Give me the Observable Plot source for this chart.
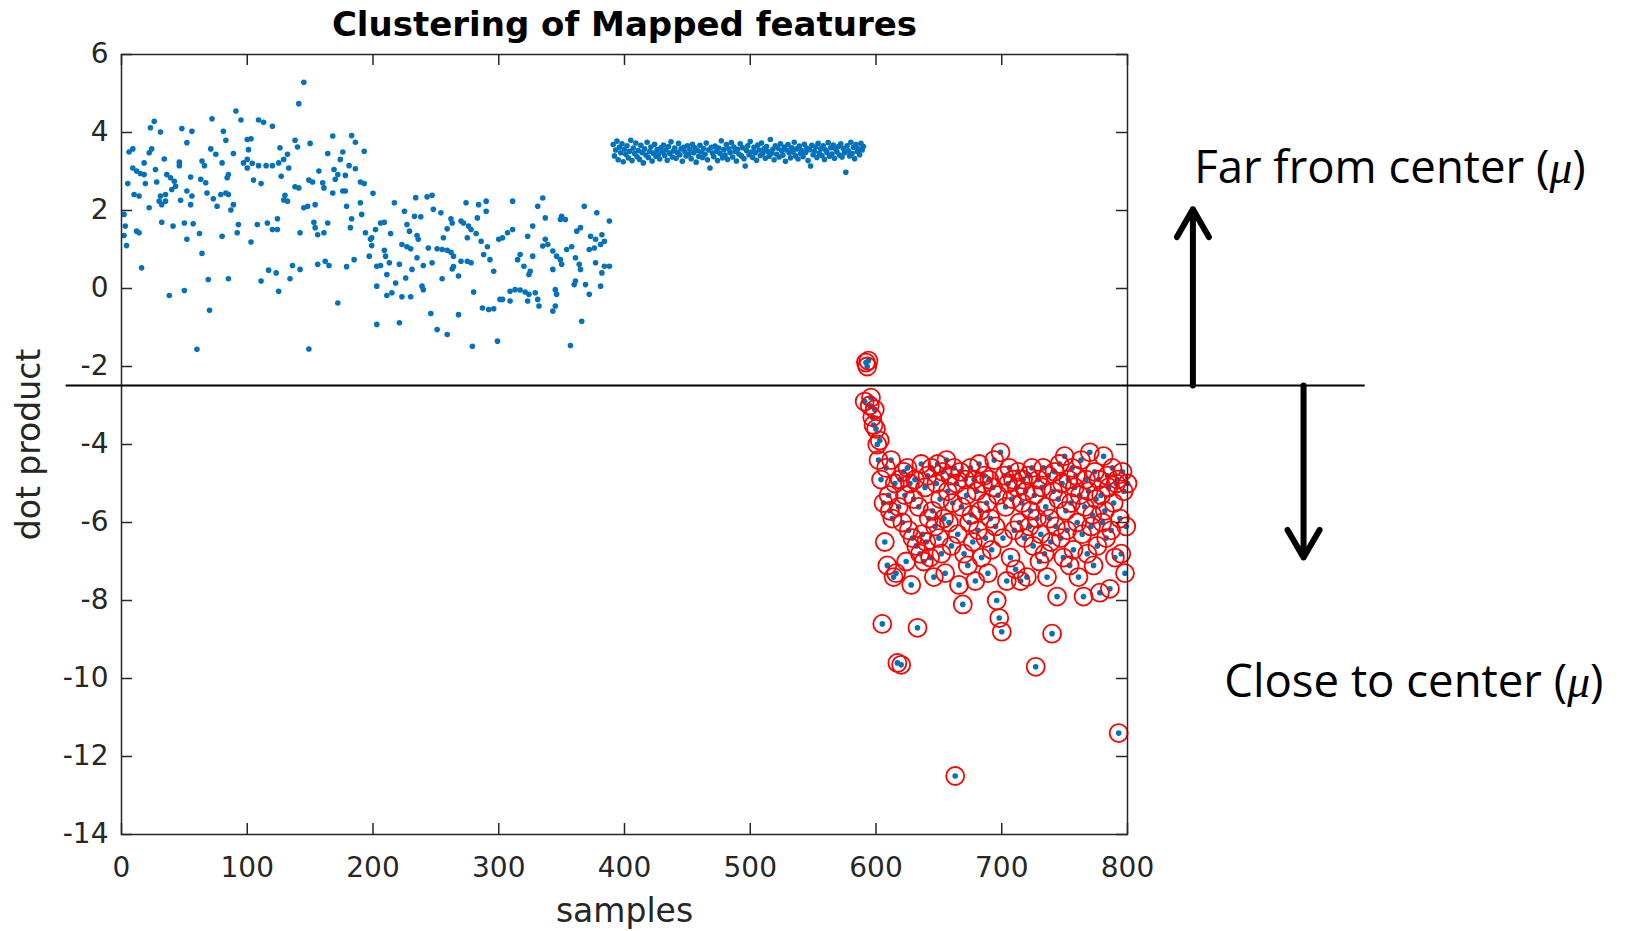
<!DOCTYPE html>
<html><head><meta charset="utf-8">
<script src="https://cdn.jsdelivr.net/npm/d3@7"></script>
<script src="https://cdn.jsdelivr.net/npm/@observablehq/plot@0.6"></script>
<style>
html, body { margin:0; padding:0; background:#fff; }
#chart svg { display:block; }
</style></head>
<body><div id="chart"></div>
<script>
// ---------- text ----------
const chartTitle = "Clustering of Mapped features";
const xLabel = "samples";
const yLabel = "dot product";
const xTicks = [0, 100, 200, 300, 400, 500, 600, 700, 800];
const yTicks = [6, 4, 2, 0, -2, -4, -6, -8, -10, -12, -14];

// ---------- group A (samples ~1-193) ----------
const groupAx = [2,2,3,4,5,6,9,9,10,12, 12,14,14,15,16,18,18,19,22,22, 23,24,26,27,28,30,31,31,32,32,
  34,35,35,36,38,39,40,41,42,43, 46,46,47,48,50,50,52,52,52,55, 55,56,56,57,60,62,63,64,64,66,
  67,68,69,70,71,72,73,75,76,79, 80,80,81,83,83,84,85,85,85,87, 89,89,91,92,93,95,97,100,100,
  100,101,103,103,104,105,108,109,109,111, 111,113,115,116,117,120,120,120,123,124, 124,125,125,126,127,129,129,130,132,132,
  133,134,136,138,138,140,141,141,142,142, 145,145,148,149,149,150,152,153,154,154, 156,156,157,160,161,161,162,164,164,165,
  168,168,169,170,172,172,174,176,176,178, 178,179,179,181,182,183,183,185,186,186, 190,190,191,193,193];
const groupAy = [1.90,1.36,1.60,1.10,2.69,3.50,3.58,3.09,2.41,3.01, 1.47,2.37,1.43,2.95,0.53,3.22,2.92,2.69,3.48,2.07,
  4.12,3.58,4.29,3.05,2.73,2.24,4.01,2.37,2.15,1.70, 3.32,2.41,2.24,2.92,-0.18,2.84,2.54,1.60,2.75,2.62,
  3.24,3.15,2.26,4.10,1.68,-0.05,1.26,2.50,3.74,2.86, 2.15,2.37,4.03,1.66,-1.56,1.41,2.80,0.90,3.27,3.15,
  2.71,2.45,0.23,-0.56,3.58,4.35,2.30,3.44,2.11,2.41, 3.22,1.34,4.03,3.80,2.45,2.84,2.41,2.92,0.25,2.01,
  2.15,3.46,4.55,1.43,1.64,4.32,3.22,3.82,3.09,
  3.31,3.56,3.84,1.19,3.21,2.78,1.64,4.32,3.15,2.69, 0.19,4.26,3.15,1.68,0.47,3.15,1.51,4.16,0.40,1.79,
  1.51,3.22,-0.07,3.61,2.88,3.31,2.27,2.39,3.44,2.24, 3.09,0.25,0.59,2.61,3.80,3.63,4.74,2.58,1.43,0.49,
  5.29,2.07,2.11,2.78,-1.55,3.72,2.73,1.70,2.15,1.56, 1.38,0.62,3.01,2.71,2.58,1.43,0.70,1.68,3.46,0.59,
  2.45,3.91,3.05,2.80,2.92,-0.37,3.31,3.50,2.50,2.90, 2.50,2.11,0.56,3.15,1.56,3.92,1.79,0.74,3.75,3.07,
  2.73,2.20,1.90,2.69,3.52];

// ---------- group B (samples ~194-390) ----------
const groupBx = [194,197,198,199,199,200,202,203,203,203, 206,206,209,209,210,211,211,213,214,215,
  217,218,221,221,223,223,225,226,227,227, 229,230,230,231,233,234,235,235,236,238,
  239,240,240,243,244,246,247,247,248,251, 251,254,255,255,256,259,259,259,262,262,
  263,263,264,264,268,268,270,270,272,274, 275,275,276,278,278,279,280,282,283,284,
  286,287,288,290,290,291,292,293,296,296, 299,300,301,
  303,303,307,309,309,311,311,313,315,317, 317,320,321,323,323,324,324,325,327,327,
  329,331,331,332,335,335,337,337,339,343, 343,343,345,345,346,346,349,349,350,350,
  353,354,357,358,360,361,361,362,364,365, 365,366,368,369,372,372,373,376,377,377,
  378,381,381,382,382,384,384,388,388];
const groupBy = [1.43,0.83,1.26,1.10,1.30,2.44,1.51,0.57,0.06,-0.92, 1.68,0.59,1.70,0.98,0.83,0.36,-0.18,0.66,1.41,-0.11,
  2.20,0.14,0.62,-0.88,1.13,-0.21,1.98,0.27,1.64,1.07, 1.47,-0.21,1.02,0.49,1.85,2.33,1.36,0.79,1.26,1.84,
  0.06,0.59,-0.03,2.35,1.04,-0.64,2.39,0.66,2.03,1.02, -1.05,1.94,1.00,0.25,1.30,1.53,0.98,-1.18,1.79,0.93,
  1.68,0.50,0.83,0.56,-0.67,0.32,1.73,0.70,1.68,2.20, 1.30,0.70,1.60,1.51,0.66,-1.48,-0.09,1.41,1.81,2.15,
  1.21,-0.50,0.87,2.24,1.98,1.07,-0.54,0.74,0.44,-0.52, -1.35,1.26,-0.28,
  1.30,-0.28,1.43,-0.07,-0.32,2.24,1.51,-0.03,0.74,0.87, -0.04,0.57,-0.09,1.34,-0.32,-0.15,0.36,0.44,1.60,0.83,
  -0.11,-0.28,2.11,-0.45,2.32,1.09,1.81,1.26,1.13,0.96, 0.49,-0.58,-0.03,-0.45,0.83,-0.15,1.77,0.74,1.85,0.62,
  1.77,1.00,-1.46,1.07,0.10,0.79,0.19,1.47,0.62,1.56, 0.49,-0.84,2.11,0.10,1.00,-0.15,1.34,1.04,1.26,0.66,
  1.94,1.13,0.06,1.38,0.40,1.21,0.57,1.73,0.57];

// ---------- group C (samples 391-590, one per sample) ----------
const groupCstart = 391;
const groupCy = [
  3.69,3.40,3.55,3.78,3.30,3.62,3.48,3.71,3.25,3.57,3.44,3.66,3.35,3.52,3.80,3.28,3.60,3.46,3.73,3.38,
  3.54,3.31,3.67,3.49,3.22,3.58,3.42,3.75,3.36,3.51,3.63,3.27,3.47,3.70,3.39,3.56,3.44,3.32,3.61,3.50,
  3.68,3.41,3.55,3.29,3.64,3.47,3.76,3.37,3.53,3.60,3.34,3.49,3.72,3.43,3.58,3.26,3.62,3.51,3.40,3.66,
  3.45,3.57,3.33,3.70,3.48,3.61,3.24,3.54,3.39,3.67,3.50,3.36,3.59,3.44,3.73,3.30,3.55,3.09,3.62,3.47,
  3.38,3.65,3.52,3.28,3.60,3.46,3.79,3.35,3.56,3.42,3.69,3.31,3.58,3.49,3.74,3.37,3.63,3.52,3.27,3.57,
  3.45,3.71,3.40,3.61,3.33,3.14,3.54,3.66,3.43,3.77,3.50,3.36,3.62,3.48,3.29,3.68,3.55,3.41,3.73,3.46,
  3.58,3.34,3.64,3.51,3.39,3.82,3.47,3.57,3.30,3.66,3.44,3.60,3.37,3.71,3.53,3.42,3.63,3.26,3.55,3.69,
  3.48,3.35,3.61,3.50,3.75,3.40,3.58,3.32,3.65,3.46,3.54,3.38,3.70,3.49,3.60,3.28,3.56,3.14,3.67,3.43,
  3.52,3.63,3.36,3.72,3.47,3.58,3.41,3.66,3.31,3.55,3.49,3.74,3.39,3.61,3.45,3.68,3.34,3.57,3.50,3.64,
  3.42,3.71,3.37,3.59,3.48,2.98,3.66,3.53,3.40,3.75,3.46,3.62,3.33,3.69,3.51,3.58,3.43,3.72,3.55,3.64];

// ---------- group D (samples 591-800, circled in red) ----------
const groupDstart = 591;
const groupDy = [
  -2.9,-1.9,-2.0,-1.85,-3.0,-2.8,-3.3,-3.5,-3.1,-3.6,
  -4.0,-4.4,-3.9,-4.9,-8.6,-5.5,-6.5,-4.6,-7.1,-5.3,
  -5.7,-4.4,-5.9,-7.4,-5.0,-7.3,-9.6,-5.6,-4.9,-9.65,
  -6.0,-4.7,-5.3,-7.0,-4.6,-6.2,-5.0,-7.6,-6.4,-5.4,
  -4.9,-6.6,-8.7,-5.6,-6.8,-4.5,-6.3,-7.0,-5.1,-6.5,
  -4.8,-5.9,-6.9,-4.6,-5.7,-7.4,-6.1,-5.0,-4.5,-6.4,
  -5.4,-6.8,-4.7,-5.9,-7.3,-4.4,-5.2,-6.0,-4.8,-6.6,
  -5.5,-4.6,-12.5,-5.0,-6.3,-7.6,-4.7,-5.6,-8.1,-6.8,
  -4.9,-5.3,-7.1,-6.0,-4.6,-5.8,-6.5,-4.9,-7.5,-5.2,
  -6.2,-4.5,-5.7,-6.9,-5.0,-4.8,-6.4,-5.5,-7.3,-4.9,
  -5.9,-6.7,-5.1,-4.4,-6.1,-8.0,-5.3,-8.45,-4.2,-8.8,
  -6.4,-4.8,-5.6,-7.5,-5.0,-4.6,-6.9,-5.4,-4.9,-6.2,
  -7.2,-5.1,-4.7,-6.0,-7.5,-5.5,-4.9,-6.4,-5.2,-7.4,
  -4.8,-6.1,-5.7,-4.6,-6.6,-5.3,-9.7,-5.9,-4.9,-7.0,
  -6.3,-5.1,-4.6,-6.8,-5.6,-7.4,-4.8,-5.9,-6.5,-8.85,
  -5.2,-4.7,-6.1,-7.9,-5.4,-4.5,-6.4,-5.0,-6.9,-4.3,
  -5.7,-6.2,-4.9,-7.1,-5.5,-4.6,-6.7,-5.1,-4.8,-6.0,
  -7.4,-5.3,-4.4,-6.3,-7.9,-5.6,-4.9,-6.8,-5.2,-4.2,
  -6.1,-5.8,-7.1,-4.7,-5.4,-6.6,-4.9,-7.8,-5.3,-6.0,
  -4.3,-5.7,-6.4,-4.8,-5.1,-7.7,-6.2,-4.6,-5.5,-6.9,
  -5.0,-4.9,-11.4,-5.9,-6.8,-4.7,-5.2,-7.3,-6.1,-5.0];

// ---------- annotations (data units) ----------
const thresholdLine = [{y: -2.49, x1: -44, x2: 989}];
const arrows = [
  {x1: 852, y1: -2.49, x2: 852, y2: 2.03},
  {x1: 940, y1: -2.49, x2: 940, y2: -6.9}
];
const notes = [
  {x: 853, y: 3.08, label: "Far from center (μ)"},
  {x: 877, y: -10.1, label: "Close to center (μ)"}
];

// ---------- build tables ----------
const bluePoints = [];
groupAx.forEach((x, i) => bluePoints.push({x, y: groupAy[i]}));
groupBx.forEach((x, i) => bluePoints.push({x, y: groupBy[i]}));
groupCy.forEach((y, i) => bluePoints.push({x: groupCstart + i, y}));
const redPoints = groupDy.map((y, i) => ({x: groupDstart + i, y}));
redPoints.forEach(p => bluePoints.push(p));

const W = 1629, H = 931, mL = 121, mR = 502, mT = 54, mB = 97;
const fw = W - mL - mR, fh = H - mT - mB, tickLen = 11;
const axisColor = "#262626";

const chart = Plot.plot({
  width: W, height: H,
  marginLeft: mL, marginRight: mR, marginTop: mT, marginBottom: mB,
  x: {domain: [0, 800]},
  y: {domain: [-14, 6]},
  style: {fontFamily: "DejaVu Sans", fontSize: "28px", color: axisColor, background: "white", overflow: "visible"},
  marks: [
    Plot.dot(bluePoints, {x: "x", y: "y", r: 2.8, fill: "#0072BD", stroke: "none"}),
    Plot.dot(redPoints, {x: "x", y: "y", r: 9, fill: "none", stroke: "#ff0000", strokeWidth: 1.8}),
    // inward ticks on all four sides
    Plot.ruleX(xTicks, {x: d => d, insetTop: fh - tickLen, stroke: axisColor, strokeWidth: 1.5}),
    Plot.ruleX(xTicks, {x: d => d, insetBottom: fh - tickLen, stroke: axisColor, strokeWidth: 1.5}),
    Plot.ruleY(yTicks, {y: d => d, insetRight: fw - tickLen, stroke: axisColor, strokeWidth: 1.5}),
    Plot.ruleY(yTicks, {y: d => d, insetLeft: fw - tickLen, stroke: axisColor, strokeWidth: 1.5}),
    Plot.frame({stroke: axisColor, strokeWidth: 1.5}),
    Plot.axisX(xTicks, {anchor: "bottom", tickSize: 0, tickPadding: 23, label: null, fontSize: 28, fill: axisColor, tickFormat: d => String(d)}),
    Plot.axisY(yTicks, {anchor: "left", tickSize: 0, tickPadding: 13, label: null, fontSize: 28, fill: axisColor, tickFormat: d => String(d)}),
    Plot.text([chartTitle], {frameAnchor: "top", lineAnchor: "middle", dy: -29, fontSize: 34, fontWeight: "bold", fill: "black"}),
    Plot.text([xLabel], {frameAnchor: "bottom", lineAnchor: "bottom", dy: 87, fontSize: 33, fill: axisColor}),
    Plot.text([yLabel], {frameAnchor: "left", textAnchor: "middle", lineAnchor: "middle", rotate: -90, dx: -92, fontSize: 33, fill: axisColor}),
    // annotations
    Plot.ruleY(thresholdLine, {y: "y", x1: "x1", x2: "x2", stroke: "black", strokeWidth: 2}),
    Plot.arrow(arrows, {x1: "x1", y1: "y1", x2: "x2", y2: "y2", stroke: "black", strokeWidth: 6, headLength: 8, headAngle: 60}),
    Plot.text(notes, {x: "x", y: "y", text: "label", textAnchor: "start", lineAnchor: "middle", fontSize: 45.5, fontFamily: "Open Sans", fill: "black"})
  ]
});

document.getElementById("chart").appendChild(chart);

// italic mu in annotation texts
d3.select(chart).selectAll("text").each(function() {
  const t = this.textContent;
  if (t.includes("μ") && this.childElementCount === 0) {
    const parts = t.split("μ");
    const sel = d3.select(this);
    sel.text(null);
    sel.append("tspan").text(parts[0]);
    sel.append("tspan").attr("font-style", "italic").attr("font-family", "Liberation Serif").text("μ");
    sel.append("tspan").text(parts[1]);
  }
});
</script>
</body></html>
